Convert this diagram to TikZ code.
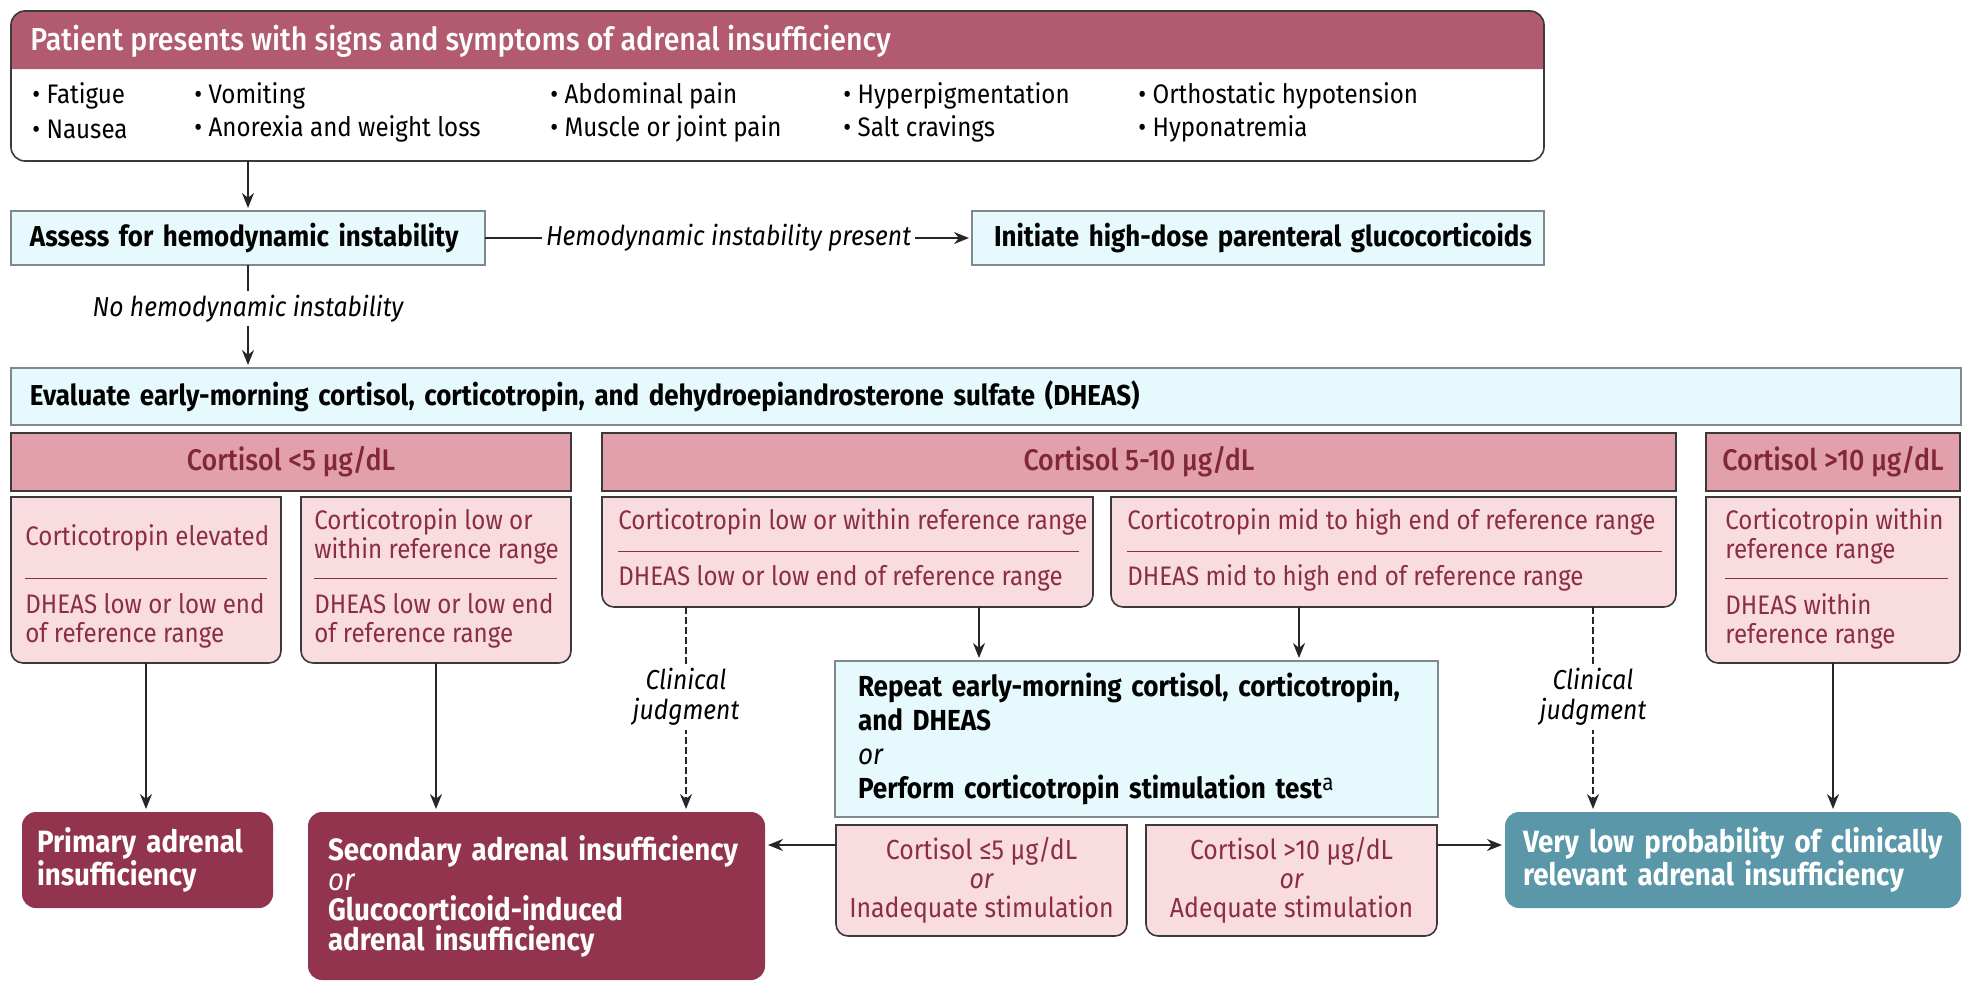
\documentclass[tikz,border=0pt]{standalone}
\usepackage{fontspec}
\setmainfont{Fira Sans}[FakeStretch=0.9]
\newfontfamily\medfont{Fira Sans Medium}[FakeStretch=0.9]
\usetikzlibrary{arrows.meta}
\definecolor{hdrred}{HTML}{B25A6F}
\definecolor{corthdr}{HTML}{E2A0AD}
\definecolor{corttxt}{HTML}{82263C}
\definecolor{pinkfill}{HTML}{F9DCE0}
\definecolor{pinktxt}{HTML}{8C2D46}
\definecolor{cyanfill}{HTML}{E6FAFD}
\definecolor{cyanline}{HTML}{7E8A8E}
\definecolor{maroonbox}{HTML}{93344E}
\definecolor{tealbox}{HTML}{5A97A8}
\definecolor{edge}{HTML}{3A3A3A}
\newcommand\szBig{\fontsize{14.4}{17}\selectfont}
\newcommand\szRes{\fontsize{15.4}{15}\selectfont}
\newcommand\szMid{\fontsize{13.4}{14.5}\selectfont}
\newcommand\szLbl{\fontsize{13.7}{15}\selectfont}
\newcommand\botround[2]{\path[#2] (#1.north west) -- ([yshift=6pt]#1.south west) arc[start angle=180,end angle=270,radius=6pt] -- ([xshift=-6pt]#1.south east) arc[start angle=270,end angle=360,radius=6pt] -- (#1.north east) -- cycle;}
\tikzset{
  box/.style={anchor=north west, inner sep=0pt, outer sep=0pt},
  cyanbox/.style={box, draw=cyanline, fill=cyanfill, line width=0.8pt, font=\bfseries\szBig, align=left},
  corthdrbox/.style={box, draw=edge, fill=corthdr, line width=0.8pt, text=corttxt, font=\medfont\fontsize{14.9}{17}\selectfont},
  pinkpath/.style={draw=edge, fill=pinkfill, line width=0.8pt},
  ptxt/.style={anchor=west, inner sep=0pt, text=pinktxt, font=\szMid, align=left},
  ctxt/.style={inner sep=0pt, text=pinktxt, font=\fontsize{13.8}{14.5}\selectfont, align=center},
  pdiv/.style={draw=pinktxt, line width=0.5pt},
  bul/.style={anchor=west, inner sep=0pt, font=\szMid},
  resbox/.style={box, rounded corners=7pt, text=white, font=\bfseries\szRes, align=left},
  arr/.style={draw=black!85, line width=0.85pt, -{Stealth[length=7.5pt,width=6pt]}, shorten >=1.5pt},
  dasharr/.style={arr, dash pattern=on 3.5pt off 1.5pt},
  lbl/.style={fill=white, inner sep=2pt, font=\itshape\szLbl, align=center}
}
\begin{document}
\begin{tikzpicture}[x=0.5pt,y=-0.5pt]
\useasboundingbox (0,0) rectangle (1972,991);
% top box
\node[box, minimum width=766.5pt, minimum height=75pt] (top) at (11,11) {};
\fill[hdrred] ([yshift=-29pt]top.north west) -- ([yshift=-7pt]top.north west) arc[start angle=180,end angle=90,radius=7pt] -- ([xshift=-7pt]top.north east) arc[start angle=90,end angle=0,radius=7pt] -- ([yshift=-29pt]top.north east) -- cycle;
\draw[edge, line width=0.8pt, rounded corners=7pt] (top.north west) rectangle (top.south east);
\node[anchor=west, inner sep=0pt, text=white, font=\medfont\fontsize{15.9}{17}\selectfont] (title) at (30,41) {Patient presents with signs and symptoms of adrenal insufficiency};
\node[bul] (s1) at (32,96) {• Fatigue};
\node[bul] (s2) at (32,129) {• Nausea};
\node[bul] (s3) at (194,96) {• Vomiting};
\node[bul] (s4) at (194,129) {• Anorexia and weight loss};
\node[bul] (s5) at (550,96) {• Abdominal pain};
\node[bul] (s6) at (550,129) {• Muscle or joint pain};
\node[bul] (s7) at (843,96) {• Hyperpigmentation};
\node[bul] (s8) at (843,129) {• Salt cravings};
\node[bul] (s9) at (1138,96) {• Orthostatic hypotension};
\node[bul] (s10) at (1138,129) {• Hyponatremia};
% assess / initiate / evaluate
\node[cyanbox, inner xsep=9.5pt, text width=218pt, minimum height=27pt] (assess) at (11,211) {Assess for hemodynamic instability};
\node[cyanbox, inner xsep=11pt, text width=264pt, minimum height=27pt] (init) at (972,211) {\mbox{Initiate high-dose parenteral glucocorticoids}};
\node[cyanbox, inner xsep=9.5pt, text width=956pt, minimum height=28.5pt] (eval) at (11,368) {Evaluate early-morning cortisol, corticotropin, and dehydroepiandrosterone sulfate (DHEAS)};
\draw[arr] (assess.north |- top.south) -- (assess.north);
\draw[arr] (assess.east) -- (init.west) node[lbl, midway] {Hemodynamic instability present};
\draw[arr] (assess.south) -- (assess.south |- eval.north) node[lbl, pos=0.42] {No hemodynamic instability};
% cortisol headers
\node[corthdrbox, minimum width=280pt, minimum height=29pt] (h1) at (11,433) {Cortisol <5 μg/dL};
\node[corthdrbox, minimum width=537pt, minimum height=29pt] (h2) at (602,433) {Cortisol 5-10 μg/dL};
\node[corthdrbox, minimum width=127pt, minimum height=29pt] (h3) at (1706,433) {Cortisol >10 μg/dL};
% pink boxes
\node[box, minimum width=135pt, minimum height=83pt] (b1) at (11,497) {};
\node[box, minimum width=135pt, minimum height=83pt] (b2) at (301,497) {};
\node[box, minimum width=245.5pt, minimum height=55pt] (b3) at (602,497) {};
\node[box, minimum width=282.5pt, minimum height=55pt] (b4) at (1111,497) {};
\node[box, minimum width=127pt, minimum height=83pt] (b5) at (1706,497) {};
\botround{b1}{pinkpath}
\botround{b2}{pinkpath}
\botround{b3}{pinkpath}
\botround{b4}{pinkpath}
\botround{b5}{pinkpath}
\node[ptxt] (b1a) at (25,538) {Corticotropin elevated};
\draw[pdiv] (25,578) -- (267,578);
\node[ptxt] (b1b) at (25,621) {DHEAS low or low end\\of reference range};
\node[ptxt] (b2a) at (314,536.5) {Corticotropin low or\\within reference range};
\draw[pdiv] (314,578) -- (557,578);
\node[ptxt] (b2b) at (314,621) {DHEAS low or low end\\of reference range};
\node[ptxt] (b3a) at (618,522) {Corticotropin low or within reference range};
\draw[pdiv] (618,551) -- (1079,551);
\node[ptxt] (b3b) at (618,578) {DHEAS low or low end of reference range};
\node[ptxt] (b4a) at (1127,522) {Corticotropin mid to high end of reference range};
\draw[pdiv] (1127,551) -- (1662,551);
\node[ptxt] (b4b) at (1127,578) {DHEAS mid to high end of reference range};
\node[ptxt] (b5a) at (1725,536.5) {Corticotropin within\\reference range};
\draw[pdiv] (1725,578) -- (1948,578);
\node[ptxt] (b5b) at (1725,621) {DHEAS within\\reference range};
% repeat box
\node[cyanbox, inner xsep=11.5pt, text width=278.5pt, minimum height=78pt, font=\bfseries\fontsize{14.5}{17}\selectfont] (rep) at (835,661) {Repeat early-morning cortisol, corticotropin,\\and DHEAS\\{\mdseries\itshape or}\\Perform corticotropin stimulation test\raisebox{0.55ex}{\mdseries\fontsize{11.5}{12}\selectfont a}};
% result-of-test boxes
\node[box, minimum width=145.5pt, minimum height=55.5pt] (le5) at (836,825) {};
\node[box, minimum width=145.5pt, minimum height=55.5pt] (gt10) at (1146,825) {};
\botround{le5}{pinkpath}
\botround{gt10}{pinkpath}
\node[ctxt] (le5t) at (le5) {Cortisol ≤5 μg/dL\\{\itshape or}\\Inadequate stimulation};
\node[ctxt] (gt10t) at (gt10) {Cortisol >10 μg/dL\\{\itshape or}\\Adequate stimulation};
% outcome boxes
\node[resbox, fill=maroonbox, inner xsep=7.5pt, text width=110.5pt, minimum height=48pt] (prim) at (22,812) {Primary adrenal\\insufficiency};
\node[resbox, fill=maroonbox, inner xsep=10pt, text width=208.5pt, minimum height=84pt] (sec) at (308,812) {Secondary adrenal insufficiency\\{\mdseries\itshape or}\\Glucocorticoid-induced\\adrenal insufficiency};
\node[resbox, fill=tealbox, inner xsep=9pt, text width=210pt, minimum height=48pt] (vlow) at (1505,812) {Very low probability of clinically\\relevant adrenal insufficiency};
% helper coordinates
\coordinate (xa) at (979,0);
\coordinate (xb) at (1299,0);
\coordinate (xc) at (686,0);
\coordinate (xd) at (1593,0);
\coordinate (ya) at (0,845);
% connectors
\draw[arr] (b1.south) -- (b1.south |- prim.north);
\draw[arr] (b2.south) -- (b2.south |- sec.north);
\draw[arr] (xa |- b3.south) -- (xa |- rep.north);
\draw[arr] (xb |- b4.south) -- (xb |- rep.north);
\draw[dasharr] (xc |- b3.south) -- (xc |- sec.north) node[lbl, pos=0.44] {Clinical\\judgment};
\draw[dasharr] (xd |- b4.south) -- (xd |- vlow.north) node[lbl, pos=0.44] {Clinical\\judgment};
\draw[arr] (b5.south) -- (b5.south |- vlow.north);
\draw[arr] (le5.west |- ya) -- (sec.east |- ya);
\draw[arr] (gt10.east |- ya) -- (vlow.west |- ya);
\end{tikzpicture}
\end{document}
